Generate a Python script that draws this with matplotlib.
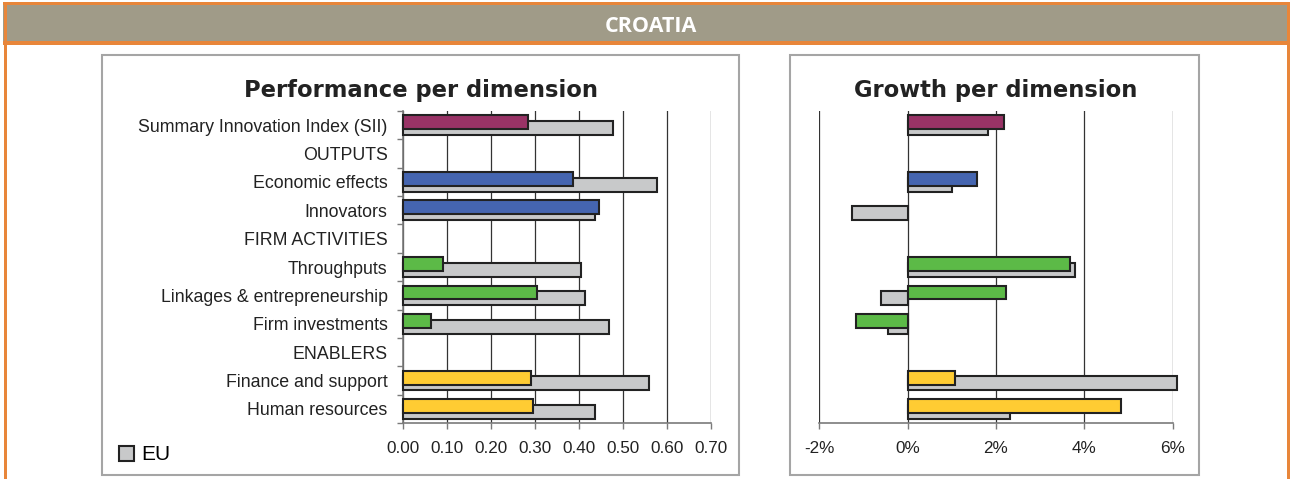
#!/usr/bin/env python3
# -*- coding: utf-8 -*-
"""
Innovation scoreboard country profile: performance and growth per dimension.
"""

import numpy as np
from matplotlib import pyplot as plt
from matplotlib.patches import Rectangle

plt.rcParams.update({'font.family': ['Liberation Sans', 'DejaVu Sans'], 'font.size': 12})

country = 'CROATIA'
dimensions = ['Summary Innovation Index (SII)', 'OUTPUTS', 'Economic effects', 'Innovators',
              'FIRM ACTIVITIES', 'Throughputs', 'Linkages & entrepreneurship', 'Firm investments',
              'ENABLERS', 'Finance and support', 'Human resources']

# performance scores (country vs EU), nan for the group header rows
perf_country = [0.285, np.nan, 0.386, 0.446, np.nan, 0.090, 0.305, 0.063, np.nan, 0.292, 0.296]
perf_eu = [0.478, np.nan, 0.578, 0.437, np.nan, 0.405, 0.415, 0.469, np.nan, 0.560, 0.437]

# annual growth in percent
growth_country = [2.17, np.nan, 1.58, np.nan, np.nan, 3.67, 2.22, -1.16, np.nan, 1.08, 4.83]
growth_eu = [1.81, np.nan, 1.00, -1.27, np.nan, 3.79, -0.60, -0.45, np.nan, 6.09, 2.31]

perf_ticks = np.arange(0, 0.71, 0.1)
growth_ticks = [-2, 0, 2, 4, 6]

group_colors = ['#993366', None, '#4565b0', '#4565b0', None, '#5cba47', '#5cba47', '#5cba47',
                None, '#ffcc33', '#ffcc33']
eu_color = '#c8c9ca'
orange = '#e8863a'
grid_c = '#333333'


def draw_bars(ax, vals_c, vals_eu):
    y = np.arange(len(dimensions))
    hgt = 0.49
    eu = ax.barh(y + 0.105, vals_eu, height=hgt, color=eu_color, edgecolor='#222222',
                 linewidth=1.5, zorder=3, clip_on=False)
    ax.barh(y - 0.1, vals_c, height=hgt, color=[c if c else 'none' for c in group_colors],
            edgecolor='#222222', linewidth=1.5, zorder=4, clip_on=False)
    ax.set_ylim(len(dimensions) - 0.5, -0.5)
    ax.set_yticks(y)
    ax.set_yticks(np.arange(len(dimensions) + 1) - 0.5, minor=True)
    ax.set_facecolor('none')
    for s in ['top', 'right']:
        ax.spines[s].set_visible(False)
    ax.spines['bottom'].set_color('#7a7a7a')
    ax.spines['bottom'].set_linewidth(1.2)
    ax.tick_params(axis='x', direction='out', length=4, width=1, color='#7a7a7a', pad=9,
                   labelsize=12.3, labelcolor='#222222')
    ax.xaxis.grid(True, color=grid_c, linewidth=0.9, zorder=1)
    ax.set_axisbelow(True)
    return eu


fig = plt.figure(figsize=(12.9, 4.79), dpi=100)
W, H = 1290.0, 479.0


def fbox(x0, y0, x1, y1, **kw):
    # rectangle in pixel coordinates measured from the top left corner
    fig.patches.append(Rectangle((x0 / W, 1 - y1 / H), (x1 - x0) / W, (y1 - y0) / H,
                                 transform=fig.transFigure, **kw))


# header bar and frame
fbox(3, 2.5, 1288.5, 44, facecolor='#a09b88', edgecolor='none', zorder=-2)
fbox(3, 1.5, 1288.5, 4.5, facecolor=orange, edgecolor='none', zorder=-1)
fbox(3, 41.5, 1288.5, 45, facecolor=orange, edgecolor='none', zorder=-1)
fbox(3.5, 1.5, 6.5, 479, facecolor=orange, edgecolor='none', zorder=-1)
fbox(1286.5, 1.5, 1289.5, 479, facecolor=orange, edgecolor='none', zorder=-1)
fig.text(651 / W, 1 - 27 / H, country, color='white', fontsize=15.5, fontweight='bold',
         family=['Open Sans', 'DejaVu Sans'], ha='center', va='center')

# panel frames
fbox(101.5, 54.5, 738.5, 475, facecolor='white', edgecolor='#a5a5a5', linewidth=1.5, zorder=-2)
fbox(789.5, 54.5, 1198.5, 474.5, facecolor='white', edgecolor='#a5a5a5', linewidth=1.5, zorder=-2)

# panel titles, centred on the frames
fig.text(420.5 / W, 1 - 91 / H, 'Performance per dimension', family='DejaVu Sans',
         fontweight='bold', fontsize=16.3, color='#222222', ha='center', va='center')
fig.text(995.5 / W, 1 - 91 / H, 'Growth per dimension', family='DejaVu Sans',
         fontweight='bold', fontsize=16.3, color='#222222', ha='center', va='center')

# performance per dimension
ax1 = fig.add_axes([403 / W, 1 - 423 / H, 307.7 / W, 312 / H])
eu_bars = draw_bars(ax1, perf_country, perf_eu)
ax1.set_xlim(0, 0.7)
ax1.set_xticks(perf_ticks)
ax1.set_xticklabels(['{:.2f}'.format(t) for t in perf_ticks])
ax1.set_yticklabels(dimensions, fontsize=12.8, color='#222222')
ax1.tick_params(axis='y', which='major', length=0, pad=11)
ax1.tick_params(axis='y', which='minor', length=4, width=1, color='#7a7a7a', direction='out')
ax1.spines['left'].set_color('#7a7a7a')
ax1.spines['left'].set_linewidth(1.2)
ax1.legend([eu_bars], ['EU'], loc='center left', bbox_to_anchor=(119 / W, 1 - 455 / H),
           bbox_transform=fig.transFigure, frameon=False, handlelength=0.7, handleheight=0.7,
           handletextpad=0.35, borderpad=0, borderaxespad=0, fontsize=15)

# growth per dimension
ax2 = fig.add_axes([819.3 / W, 1 - 423 / H, 353.4 / W, 312 / H])
draw_bars(ax2, growth_country, growth_eu)
ax2.set_xlim(-2, 6)
ax2.set_xticks(growth_ticks)
ax2.set_xticklabels(['{}%'.format(t) for t in growth_ticks])
ax2.set_yticklabels([])
ax2.tick_params(axis='y', which='both', length=0)
ax2.spines['left'].set_visible(False)

plt.savefig('out.png', dpi=100)
plt.close()
